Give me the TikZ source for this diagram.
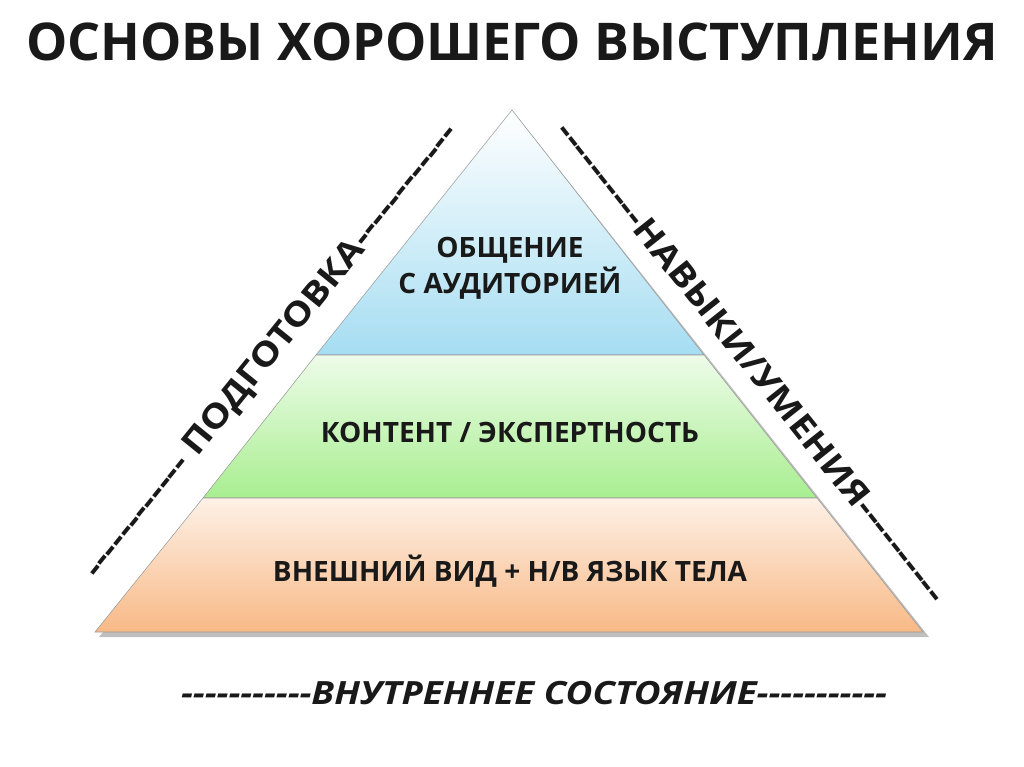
\documentclass[tikz,border=0pt]{standalone}
\usepackage{fontspec}
\setmainfont{Open Sans}[Ligatures=TeXOff]
\begin{document}
\begin{tikzpicture}[x=0.75pt,y=-0.75pt,
  lbl/.style={font=\bfseries\fontsize{21}{27}\selectfont,align=center,text=black!90},
  side/.style={font=\bfseries\fontsize{25}{29}\selectfont,text=black!90}]
\useasboundingbox (0,0) rectangle (1024,767);
\fill[white] (0,0) rectangle (1024,767);
\definecolor{tb}{HTML}{A6DDF2}
\definecolor{mg}{HTML}{A8EE90}
\definecolor{bo}{HTML}{F8B986}
\fill[black!25] (99,637) -- (516,115) -- (929,637) -- cycle;
\shade[top color=white,bottom color=tb,draw=black!40] (512,110) -- (316,355) -- (704,355) -- cycle;
\shade[top color=mg!20,bottom color=mg,draw=black!40] (316,355) -- (203,498) -- (817,498) -- (704,355) -- cycle;
\shade[top color=bo!20,bottom color=bo,draw=black!40] (203,498) -- (95,632) -- (923,632) -- (817,498) -- cycle;
\node[font=\bfseries\fontsize{39}{44}\selectfont,text=black!90] (title) at (512,42) {ОСНОВЫ ХОРОШЕГО ВЫСТУПЛЕНИЯ};
\node[lbl] (t1) at (510,268) {ОБЩЕНИЕ\\С АУДИТОРИЕЙ};
\node[lbl] (t2) at (510,432) {КОНТЕНТ / ЭКСПЕРТНОСТЬ};
\node[lbl] (t3) at (510,571) {ВНЕШНИЙ ВИД + Н/В ЯЗЫК ТЕЛА};
\node[side,rotate=51] (l) at (272,352) {\scalebox{1.15}[1]{------------ ПОДГОТОВКА------------}};
\node[side,rotate=-51.5] (r) at (752,362) {\scalebox{1.15}[1]{----------НАВЫКИ/УМЕНИЯ----------}};
\node[side,font=\bfseries\itshape\fontsize{24}{28}\selectfont] (b) at (534,693) {\scalebox{1.15}[1]{-----------ВНУТРЕННЕЕ СОСТОЯНИЕ-----------}};
\end{tikzpicture}
\end{document}
